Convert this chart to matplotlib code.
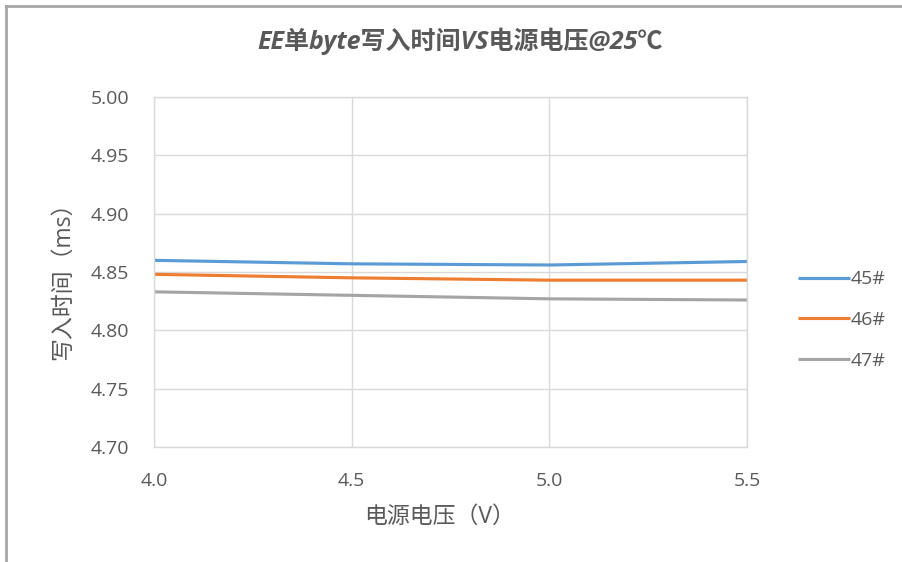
import matplotlib
matplotlib.use("Agg")
import matplotlib.pyplot as plt
from matplotlib.lines import Line2D

plt.rcParams['font.family'] = ['Open Sans', 'Noto Sans CJK SC', 'DejaVu Sans']

# Data
voltage = [4.0, 4.5, 5.0, 5.5]
s45 = [4.860, 4.857, 4.856, 4.859]
s46 = [4.848, 4.845, 4.843, 4.843]
s47 = [4.833, 4.830, 4.827, 4.826]
series_names = ['45#', '46#', '47#']
xticks = [4.0, 4.5, 5.0, 5.5]
yticks = [4.70, 4.75, 4.80, 4.85, 4.90, 4.95, 5.00]

colors = ['#5b9bd5', '#ed7d31', '#a5a5a5']
text_color = '#595959'
grid_color = '#d9d9d9'

fig = plt.figure(figsize=(9.02, 5.62), dpi=100)
ax = fig.add_axes([154/902, 1 - 447/562, (747-154)/902, (447-97)/562])

for ys, name, c in zip([s45, s46, s47], series_names, colors):
    ax.plot(voltage, ys, color=c, lw=2.25, label=name, solid_capstyle='butt')

ax.set_xlim(4.0, 5.5)
ax.set_ylim(4.70, 5.00)
ax.set_xticks(xticks)
ax.set_xticklabels(['%.1f' % v for v in xticks])
ax.set_yticks(yticks)
ax.set_yticklabels(['%.2f' % v for v in yticks])
ax.tick_params(length=0, labelsize=14, labelcolor=text_color)
ax.tick_params(axis='y', pad=18)
ax.tick_params(axis='x', pad=18)
ax.grid(True, color=grid_color, lw=1)
ax.set_axisbelow(True)
for sp in ax.spines.values():
    sp.set_color(grid_color)
    sp.set_linewidth(1)

ax.set_xlabel('电源电压（V）', fontsize=16.5, color=text_color)
ax.xaxis.set_label_coords(0.482, -0.165)
ax.set_ylabel('写入时间（ms）', fontsize=16.5, color=text_color)
ax.yaxis.set_label_coords(-0.133, 0.49)

fig.text(460/902, 1 - 41.5/562, 'EE单byte写入时间VS电源电压@25℃', ha='center', va='center',
         fontsize=18, fontweight='bold', style='italic', color=text_color)

leg = ax.legend(loc='center left', bbox_to_anchor=(1.0725, 0.363), frameon=False,
                fontsize=14, handlelength=2.68, handletextpad=0.05,
                labelspacing=1.16, borderaxespad=0)
for t in leg.get_texts():
    t.set_color(text_color)

# frame of the chart area (left and top edges visible in the crop)
fig.add_artist(Line2D([6/902, 6/902], [0, 1 - 6/562], color='#a6a6a6', lw=2,
                      transform=fig.transFigure))
fig.add_artist(Line2D([6/902, 1], [1 - 6/562, 1 - 6/562], color='#a6a6a6', lw=2,
                      transform=fig.transFigure))

fig.savefig('out.png', dpi=100)
